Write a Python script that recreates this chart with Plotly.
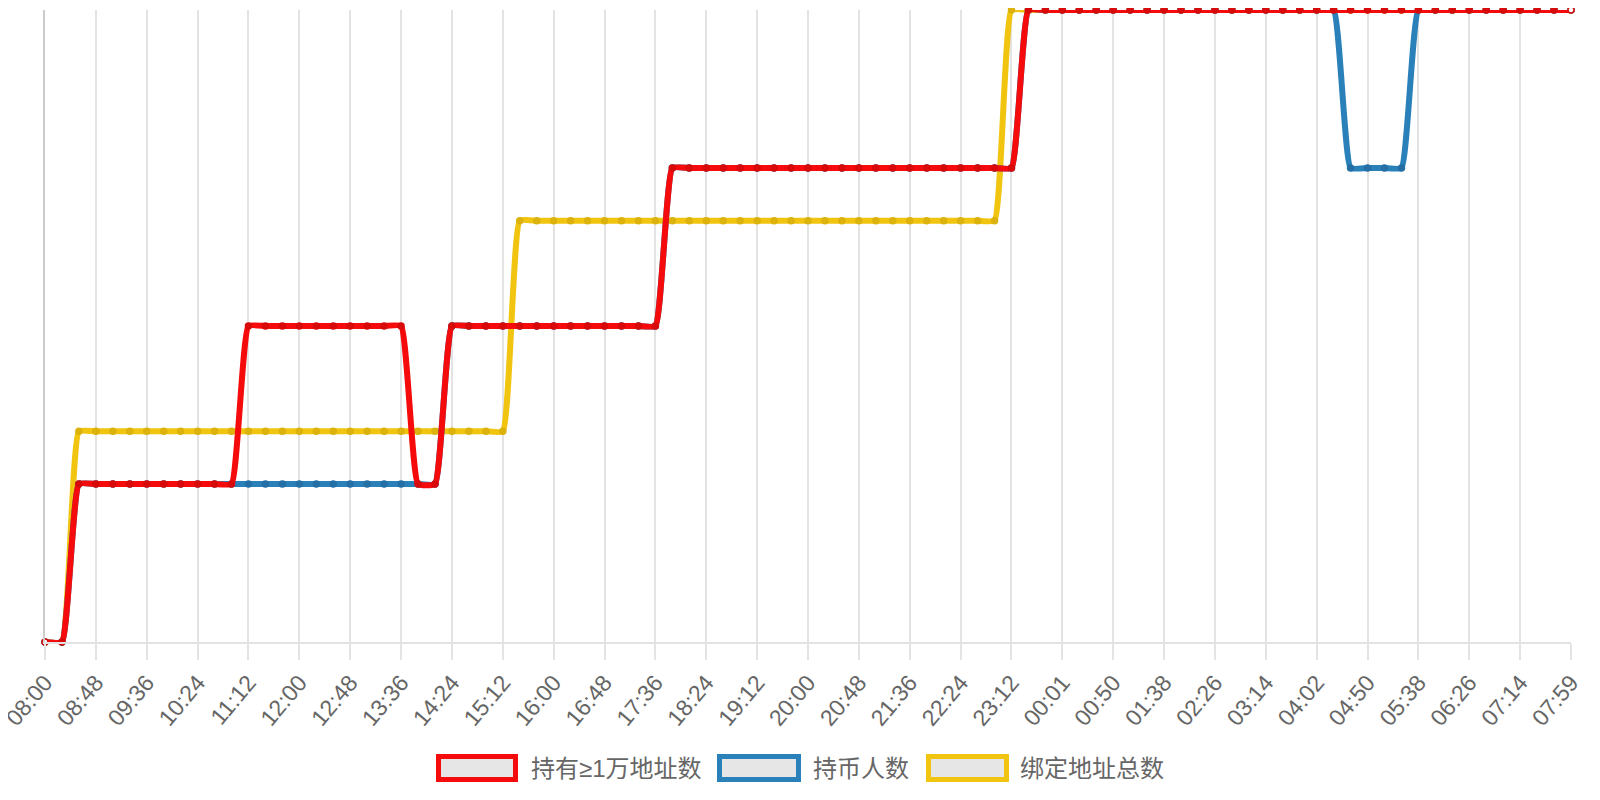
import plotly.graph_objects as go

# time labels (one point every ~16 min)
times = [
    "08:00", "08:16", "08:32", "08:48", "09:04", "09:20", "09:36", "09:52", "10:08",
    "10:24", "10:40", "10:56", "11:12", "11:28", "11:44", "12:00", "12:16", "12:32",
    "12:48", "13:04", "13:20", "13:36", "13:52", "14:08", "14:24", "14:40", "14:56",
    "15:12", "15:28", "15:44", "16:00", "16:16", "16:32", "16:48", "17:04", "17:20",
    "17:36", "17:52", "18:08", "18:24", "18:40", "18:56", "19:12", "19:28", "19:44",
    "20:00", "20:16", "20:32", "20:48", "21:04", "21:20", "21:36", "21:52", "22:08",
    "22:24", "22:40", "22:56", "23:12", "23:28", "23:45", "00:01", "00:17", "00:34",
    "00:50", "01:06", "01:22", "01:38", "01:54", "02:10", "02:26", "02:42", "02:58",
    "03:14", "03:30", "03:46", "04:02", "04:18", "04:34", "04:50", "05:06", "05:22",
    "05:38", "05:54", "06:10", "06:26", "06:42", "06:58", "07:14", "07:29", "07:44",
    "07:59",
]

# labels shown on the axis
tick_labels = [
    "08:00", "08:48", "09:36", "10:24", "11:12", "12:00", "12:48", "13:36", "14:24",
    "15:12", "16:00", "16:48", "17:36", "18:24", "19:12", "20:00", "20:48", "21:36",
    "22:24", "23:12", "00:01", "00:50", "01:38", "02:26", "03:14", "04:02", "04:50",
    "05:38", "06:26", "07:14", "07:59",
]

holders_10k = (
    [0, 0]
    + [3, 3, 3, 3, 3, 3, 3, 3, 3, 3]
    + [6, 6, 6, 6, 6, 6, 6, 6, 6, 6]
    + [3, 3]
    + [6, 6, 6, 6, 6, 6, 6, 6, 6, 6, 6, 6, 6]
    + [9, 9, 9, 9, 9, 9, 9, 9, 9, 9, 9, 9, 9, 9, 9, 9, 9, 9, 9, 9, 9]
    + [12] * 33
)

holders = (
    [0, 0]
    + [3, 3, 3, 3, 3, 3, 3, 3, 3, 3, 3, 3, 3, 3, 3, 3, 3, 3, 3, 3, 3, 3]
    + [6, 6, 6, 6, 6, 6, 6, 6, 6, 6, 6, 6, 6]
    + [9, 9, 9, 9, 9, 9, 9, 9, 9, 9, 9, 9, 9, 9, 9, 9, 9, 9, 9, 9, 9]
    + [12] * 19
    + [9, 9, 9, 9]
    + [12] * 10
)

bound_total = (
    [0, 0]
    + [4] * 26
    + [8] * 29
    + [12] * 34
)

series = [
    ("持有≥1万地址数", holders_10k, "#f50b0b", "#d80a0a"),
    ("持币人数", holders, "#2a80b9", "#2470a6"),
    ("绑定地址总数", bound_total, "#f1c40f", "#dcb20d"),
]

fig = go.Figure()

# first series drawn on top, like the original
for name, vals, color, dark in reversed(series):
    fills = [dark] * len(vals)
    fills[0] = "white"
    fills[-1] = "white"
    fig.add_trace(go.Scatter(
        x=times, y=vals, name=name, mode="lines+markers",
        line=dict(color=color, width=6, shape="spline", smoothing=0.4),
        marker=dict(size=6, color=fills, line=dict(color=dark, width=1.5)),
        cliponaxis=False, showlegend=False,
    ))

# page has an 8px body margin; figure is sized to fit inside it
PAD = 8
W, H = 1600 - 2 * PAD, 800 - 2 * PAD
# plot area in page pixels, used to place the hand-made legend
L, R, T, B = 45, 1571, 10, 642


def px(x):
    return (x - L) / (R - L)


def py(y):
    return (B - y) / (B - T)


legend_boxes = [(438.5, 515.5, 529), (719.5, 798.5, 811), (928.5, 1006.5, 1018)]
for (name, _, color, _), (x0, x1, tx) in zip(series, legend_boxes):
    fig.add_shape(type="rect", xref="paper", yref="paper",
                  x0=px(x0), x1=px(x1), y0=py(779.5), y1=py(756.5),
                  line=dict(color=color, width=5), fillcolor="#e6e6e6")
    fig.add_annotation(xref="paper", yref="paper", x=px(tx), y=py(768),
                       text=name, showarrow=False, xanchor="left", yanchor="middle",
                       font=dict(size=24, color="#666666",
                                 family="Liberation Sans, Noto Sans CJK SC, sans-serif"))

fig.update_layout(
    width=W, height=H,
    margin=dict(l=L - PAD, r=W - (R - PAD), t=T - PAD, b=H - (B - PAD), autoexpand=False),
    plot_bgcolor="white", paper_bgcolor="white",
    showlegend=False,
    font=dict(family="Liberation Sans, Arial, sans-serif", color="#666666"),
)
fig.update_xaxes(
    type="category", tickmode="array", tickvals=tick_labels, ticktext=tick_labels,
    range=[0, len(times) - 1], automargin=False,
    showgrid=True, gridcolor="#e3e3e3", gridwidth=2,
    showline=True, linecolor="#e3e3e3", linewidth=2,
    ticks="outside", ticklen=16, tickwidth=2, tickcolor="#e3e3e3",
    tickangle=-50, tickfont=dict(size=23, color="#666666"),
    zeroline=False,
)
fig.update_yaxes(
    range=[0, 12], showgrid=False, zeroline=False, showticklabels=False,
    showline=True, linecolor="#cccccc", linewidth=2, ticks="", automargin=False,
)

fig.write_html("out.html")
